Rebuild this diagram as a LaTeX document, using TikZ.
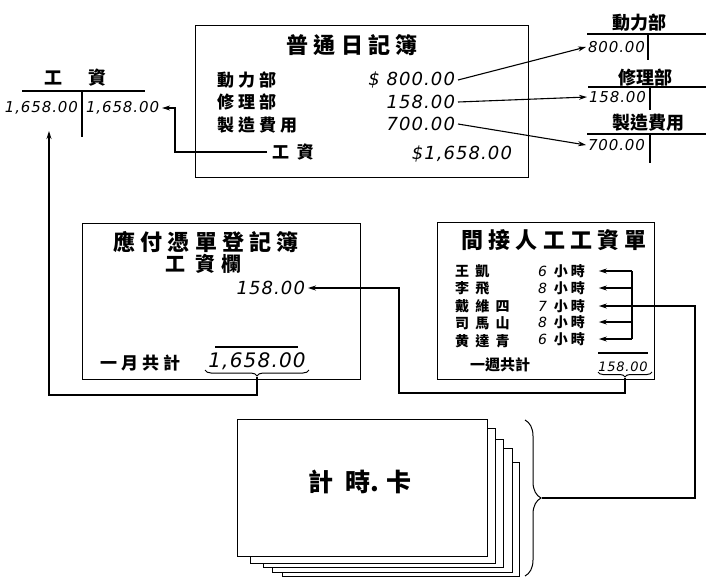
\documentclass[tikz,border=0pt]{standalone}
\usepackage{fontspec}
\usetikzlibrary{arrows.meta,decorations.pathreplacing}
\newfontfamily\cjk{Noto Sans CJK TC}
\newfontfamily\cjkw[LetterSpace=24]{Noto Sans CJK TC}
\newfontfamily\cjkn[LetterSpace=45]{Noto Sans CJK TC}
\newfontfamily\numf[LetterSpace=6]{DejaVu Sans}
\tikzset{
  box/.style={draw, line width=1.1pt, inner sep=0pt, anchor=north west, fill=white},
  conn/.style={line width=1.1pt},
  arr/.style={line width=1.1pt, -{Stealth[length=8pt,width=5pt]}},
  txt/.style={inner sep=0pt, outer sep=0pt},
  ttl/.style={txt, font=\cjkw\bfseries\fontsize{22}{22}\selectfont},
  lbl/.style={txt, font=\cjkw\bfseries\fontsize{17}{17}\selectfont},
  tt/.style={txt, font=\cjk\bfseries\fontsize{18}{18}\selectfont},
  nm/.style={txt, font=\cjkn\bfseries\fontsize{14}{14}\selectfont},
  amt/.style={txt, font=\numf\itshape\fontsize{18}{18}\selectfont},
  ent/.style={txt, font=\numf\itshape\fontsize{15}{15}\selectfont},
  sm/.style={txt, font=\numf\itshape\fontsize{13}{13}\selectfont},
  brc/.style={line width=1pt, decorate, decoration={brace, amplitude=#1}},
}
\begin{document}
\begin{tikzpicture}[x=1pt, y=-1pt]
\useasboundingbox (0,0) rectangle (706,576);

% ---------- journal ----------
\node[box, minimum width=333pt, minimum height=152pt] (jbox) at (195,25) {};
\node[ttl] (jt) at (352,45) {普通日記簿};
\node[lbl, anchor=west] (jl1) at (217,80) {動力部};
\node[lbl, anchor=west] (jl2) at (217,102) {修理部};
\node[lbl, anchor=west] (jl3) at (217,125) {製造費用};
\node[lbl, anchor=west] (jl4) at (272,152) {工\hspace{8pt}資};
\node[amt, anchor=east] (ja1) at (455,80) {\$ 800.00};
\node[amt, anchor=east] (ja2) at (455,102) {158.00};
\node[amt, anchor=east] (ja3) at (455,124) {700.00};
\node[amt, anchor=east] (ja4) at (512,154) {\$1,658.00};

% ---------- right T accounts ----------
\node[tt] (d1t) at (639,23) {動力部};
\draw[conn] (587,34) -- (706,34);
\draw[conn] (648,34) -- (648,60);
\node[ent, anchor=west] (d1e) at (588,47) {800.00};
\node[tt] (d2t) at (645,78) {修理部};
\draw[conn] (588,87) -- (706,87);
\draw[conn] (650,87) -- (650,110);
\node[ent, anchor=west] (d2e) at (589,97) {158.00};
\node[tt] (d3t) at (648,123) {製造費用};
\draw[conn] (587,134) -- (706,134);
\draw[conn] (650,134) -- (650,163);
\node[ent, anchor=west] (d3e) at (588,145) {700.00};

\draw[arr] ([xshift=3pt]ja1.east) -- ([xshift=-2pt]d1e.west);
\draw[arr] ([xshift=3pt]ja2.east) -- ([xshift=-2pt]d2e.west);
\draw[arr] ([xshift=3pt]ja3.east) -- ([xshift=-2pt]d3e.west);

% ---------- left T account ----------
\node[tt] (lt1) at (53,78) {工};
\node[tt] (lt2) at (97,78) {資};
\draw[conn] (22,91) -- (145,91);
\draw[conn] (82,91) -- (82,137);
\node[ent, anchor=east] (lte1) at (78,108) {1,658.00};
\node[ent, anchor=west] (lte2) at (86,108) {1,658.00};
\draw[arr] ([xshift=-5pt]jl4.west) -- (175,152) -- (175,108) -- ([xshift=3pt]lte2.east);

% ---------- voucher register ----------
\node[box, minimum width=278pt, minimum height=156pt] (mbox) at (82,223) {};
\node[ttl] (mt1) at (206,242) {應付憑單登記簿};
\node[txt, font=\cjk\bfseries\fontsize{20}{20}\selectfont] (mt2) at (203,264) {工\hspace{10pt}資\hspace{6pt}欄};
\node[amt, anchor=east] (m158) at (305,288) {158.00};
\node[lbl, anchor=west] (mtot) at (100,363) {一月共計};
\node[txt, font=\numf\itshape\fontsize{20}{20}\selectfont] (m1658) at (257,361) {1,658.00};
\draw[conn] (215,347) -- (298,347);
\draw[brc=6pt] (309,370) -- (205,370);
\coordinate (mbt) at (257,377);
\coordinate (ltin) at (49,131);
\draw[arr] (mbt) -- (257,395) -- (49,395) -- (ltin);

% ---------- indirect labour sheet ----------
\node[box, minimum width=217pt, minimum height=157pt] (ibox) at (437,222) {};
\node[ttl] (it) at (554,240) {間接人工工資單};
\node[nm, anchor=west] (n1) at (455,271) {王凱};
\node[nm, anchor=west] (n2) at (455,288) {李飛};
\node[nm, anchor=west] (n3) at (455,306) {戴維四};
\node[nm, anchor=west] (n4) at (455,323) {司馬山};
\node[nm, anchor=west] (n5) at (455,341) {黄達青};
\node[txt, anchor=west] (h1) at (538,271) {\numf\itshape\fontsize{14}{14}\selectfont 6\hspace{7pt}\cjk\bfseries\fontsize{14}{14}\selectfont 小\hspace{3pt}時};
\node[txt, anchor=west] (h2) at (538,288) {\numf\itshape\fontsize{14}{14}\selectfont 8\hspace{7pt}\cjk\bfseries\fontsize{14}{14}\selectfont 小\hspace{3pt}時};
\node[txt, anchor=west] (h3) at (538,306) {\numf\itshape\fontsize{14}{14}\selectfont 7\hspace{7pt}\cjk\bfseries\fontsize{14}{14}\selectfont 小\hspace{3pt}時};
\node[txt, anchor=west] (h4) at (538,322) {\numf\itshape\fontsize{14}{14}\selectfont 8\hspace{7pt}\cjk\bfseries\fontsize{14}{14}\selectfont 小\hspace{3pt}時};
\node[txt, anchor=west] (h5) at (538,339) {\numf\itshape\fontsize{14}{14}\selectfont 6\hspace{7pt}\cjk\bfseries\fontsize{14}{14}\selectfont 小\hspace{3pt}時};
\node[txt, anchor=west, font=\cjk\bfseries\fontsize{15}{15}\selectfont] (itot) at (470,365) {一週共計};
\node[sm] (i158) at (623,367) {158.00};
\draw[conn] (598,353) -- (648,353);
\draw[brc=5pt] (652,372) -- (598,372);
\coordinate (ibt) at (625,378);
\draw[arr] (ibt) -- (625,393) -- (399,393) -- (399,288) -- ([xshift=3pt]m158.east);

\coordinate (vbar) at (632,300);
\draw[conn] (632,271) -- (632,339);
\foreach \h in {h1,h2,h3,h4,h5}{
  \draw[arr] (\h.east -| vbar) -- ([xshift=14pt]\h.east);
}

% ---------- time cards ----------
\node[box, minimum width=237pt, minimum height=114pt] (c5) at (282,462) {};
\node[box, minimum width=240pt, minimum height=124pt] (c4) at (272,448) {};
\node[box, minimum width=240pt, minimum height=128pt] (c3) at (263,439) {};
\node[box, minimum width=245pt, minimum height=135pt] (c2) at (250,428) {};
\node[box, minimum width=250pt, minimum height=137pt] (c1) at (237,419) {};
\node[txt, font=\cjk\bfseries\fontsize{25}{25}\selectfont] (ct) at (360,482) {計\hspace{12pt}時.\hspace{8pt}卡};
\draw[brc=16pt] (525,420) -- (525,576);
\coordinate (cbt) at (542,498);
\draw[conn] (cbt) -- (695,498) -- (695,306) -- (h3.east -| vbar);
\end{tikzpicture}
\end{document}
